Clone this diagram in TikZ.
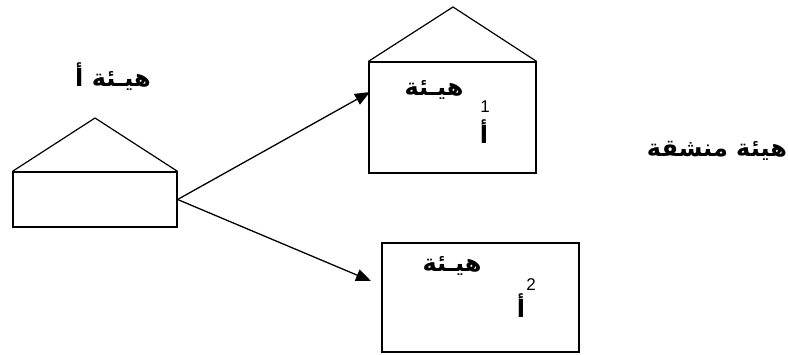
\documentclass[tikz,border=0pt]{standalone}
\usepackage{fontspec}
\usetikzlibrary{arrows.meta}
\TeXXeTstate=1
\newfontfamily\arabicfont[Script=Arabic]{DejaVu Sans}
\setmainfont{Liberation Sans}

\tikzset{
  entity/.style={draw, black, line width=1.2pt, rectangle, inner sep=0pt},
  ar/.style={font=\arabicfont\bfseries\fontsize{24}{28}\selectfont, inner sep=0pt},
  idx/.style={font=\fontsize{17}{20}\selectfont, inner sep=0pt},
  link/.style={black, line width=1.3pt, -{Triangle[length=15pt,width=12pt]}}
}

\begin{document}
\begin{tikzpicture}[x=1pt, y=-1pt]
    \useasboundingbox (0,0) rectangle (788,355);

    % base entity
    \node[entity, minimum width=164pt, minimum height=55pt] (base) at (95,199.5) {};
    \coordinate (baseTop) at (95,118);
    \draw[black, line width=1.2pt] (base.north west) -- (baseTop) -- (base.north east);
    \node[ar] (baseName) at (113,77) {\beginR هيـئة أ\endR};

    % derived entity 1
    \node[entity, minimum width=167pt, minimum height=111pt] (subA) at (452.5,117.5) {};
    \coordinate (subATop) at (453,7);
    \draw[black, line width=1.2pt] (subA.north west) -- (subATop) -- (subA.north east);
    \node[ar] (subAName) at (434,90) {\beginR هيـئة\endR};
    \node[ar] (subALetter) at (484,132) {\beginR أ\endR};
    \node[idx] (subAIdx) at (485,107) {1};

    % derived entity 2
    \node[entity, minimum width=197pt, minimum height=109pt] (subB) at (480.5,297.5) {};
    \node[ar] (subBName) at (452,266) {\beginR هيـئة\endR};
    \node[ar] (subBLetter) at (521,306) {\beginR أ\endR};
    \node[idx] (subBIdx) at (531,285) {2};

    \node[ar] (derived) at (717,151) {\beginR هيئة منشقة\endR};

    % links
    \coordinate (tipA) at (370,92);
    \coordinate (tipB) at (371,281);
    \draw[link] (base.east) -- (tipA);
    \draw[link] (base.east) -- (tipB);
\end{tikzpicture}
\end{document}
